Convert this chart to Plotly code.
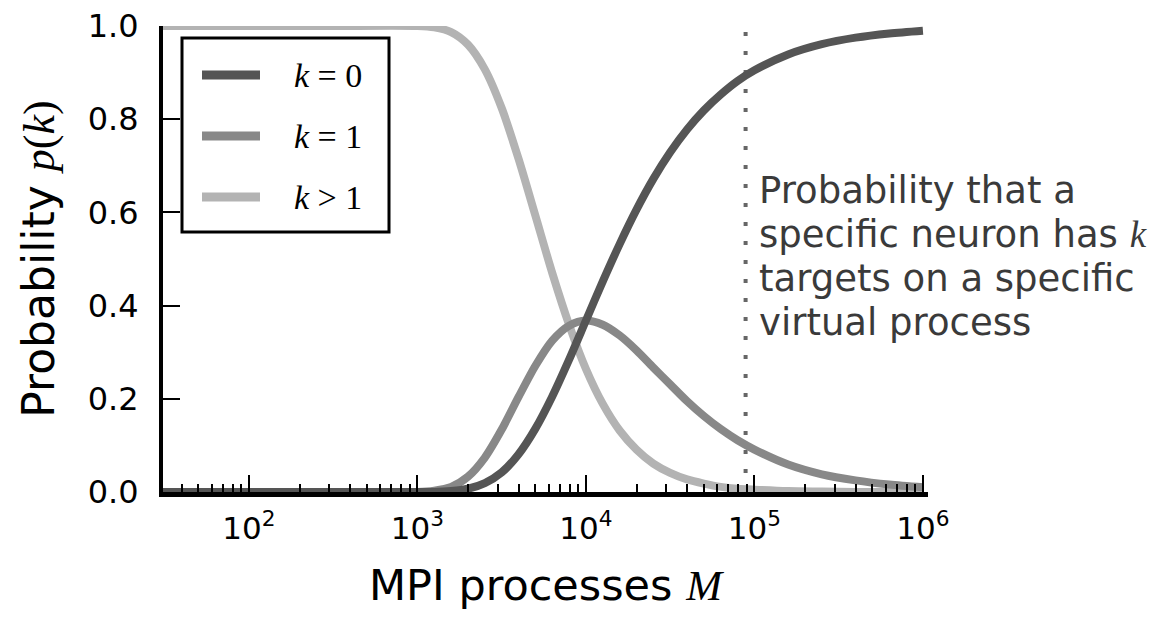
import plotly.graph_objects as go

# Number of MPI processes M (log-spaced samples)
procs_M = [30, 100, 300, 1000, 1259, 1585, 1995, 2512, 3162, 3981, 5012, 6310,
           7943, 10000, 12589, 15849, 19953, 25119, 31623, 39811, 50119, 63096,
           79433, 100000, 158489, 251189, 398107, 630957, 1000000]

# Probability that a neuron has k targets on a given virtual process
p_k0 = [0.000, 0.000, 0.000, 0.000, 0.000, 0.002, 0.007, 0.019, 0.042, 0.081,
        0.136, 0.205, 0.284, 0.368, 0.452, 0.532, 0.606, 0.672, 0.729, 0.778,
        0.819, 0.853, 0.882, 0.905, 0.939, 0.961, 0.975, 0.984, 0.990]
p_k1 = [0.000, 0.000, 0.000, 0.000, 0.003, 0.011, 0.033, 0.074, 0.134, 0.204,
        0.271, 0.325, 0.357, 0.368, 0.359, 0.336, 0.304, 0.267, 0.231, 0.195,
        0.163, 0.135, 0.111, 0.091, 0.059, 0.038, 0.025, 0.016, 0.010]
p_kgt1 = [1.000, 1.000, 1.000, 1.000, 0.997, 0.987, 0.960, 0.907, 0.824, 0.715,
          0.593, 0.470, 0.359, 0.264, 0.189, 0.132, 0.091, 0.061, 0.041, 0.027,
          0.018, 0.011, 0.007, 0.005, 0.002, 0.001, 0.000, 0.000, 0.000]

series_names = ["k = 0", "k = 1", "k > 1"]
series_colors = ["#555555", "#888888", "#b3b3b3"]
legend_texts = ["<i>k</i> = 0", "<i>k</i> = 1", "<i>k</i> > 1"]

# Vertical marker position
marker_M = 88600

x_tickvals = [1e2, 1e3, 1e4, 1e5, 1e6]
x_ticktext = ["10<sup>2</sup>", "10<sup>3</sup>", "10<sup>4</sup>",
              "10<sup>5</sup>", "10<sup>6</sup>"]
y_tickvals = [0.0, 0.2, 0.4, 0.6, 0.8, 1.0]

note_lines = ["Probability that a",
              "specific neuron has <span style=\"font-family:'Liberation Serif'\"><i>k</i></span>",
              "targets on a specific",
              "virtual process"]

SANS = "DejaVu Sans"
SERIF = "Liberation Serif"

fig = go.Figure()

fig.add_trace(go.Scatter(
    x=[marker_M, marker_M], y=[0, 1], mode="lines",
    line=dict(color="#666666", width=4, dash="4px,15px"),
    showlegend=False, hoverinfo="skip", cliponaxis=False))

# draw light -> dark so the darker curves sit on top
for vals, name, color in [(p_kgt1, series_names[2], series_colors[2]),
                          (p_k1, series_names[1], series_colors[1]),
                          (p_k0, series_names[0], series_colors[0])]:
    fig.add_trace(go.Scatter(
        x=procs_M, y=vals, mode="lines", name=name,
        line=dict(color=color, width=8, shape="spline", smoothing=0.8),
        cliponaxis=False, showlegend=False))

W, H = 1162, 619
ML, MR, MT, MB = 163, 234, 26, 127
PW, PH = W - ML - MR, H - MT - MB


def px(xp):
    return (xp - ML) / PW


def py(yp):
    return (H - MB - yp) / PH


shapes = []
annotations = []

# legend box
shapes.append(dict(type="rect", xref="paper", yref="paper",
                   x0=px(182), x1=px(389), y0=py(232), y1=py(38),
                   line=dict(color="black", width=3), fillcolor="white",
                   layer="above"))
for i, (color, txt) in enumerate(zip(series_colors, legend_texts)):
    yy = py(75 + 61 * i)
    shapes.append(dict(type="line", xref="paper", yref="paper",
                       x0=px(202), x1=px(260), y0=yy, y1=yy,
                       line=dict(color=color, width=9), layer="above"))
    annotations.append(dict(xref="paper", yref="paper", x=px(292), y=yy,
                            xanchor="left", yanchor="middle", showarrow=False,
                            text=txt, font=dict(family=SERIF, size=34,
                                                color="black")))

# side note, one annotation per line
for i, line in enumerate(note_lines):
    annotations.append(dict(
        xref="paper", yref="paper", x=px(757), y=py(190 + 44.3 * i),
        xanchor="left", yanchor="middle", align="left", showarrow=False,
        text=line, font=dict(family=SANS, size=37, color="#3a3a3a")))

fig.update_layout(
    width=W, height=H,
    margin=dict(l=ML, r=MR, t=MT, b=MB, autoexpand=False),
    paper_bgcolor="white", plot_bgcolor="white",
    shapes=shapes, annotations=annotations,
    showlegend=False,
    xaxis=dict(
        type="log", range=[1.49, 6.03], automargin=False,
        showgrid=False, zeroline=False,
        showline=True, linecolor="black", linewidth=5,
        ticks="inside", ticklen=17, tickwidth=1.5, tickcolor="black",
        tickvals=x_tickvals, ticktext=x_ticktext,
        ticklabelstandoff=5,
        tickfont=dict(family=SANS, size=31, color="black"),
        minor=dict(ticks="inside", ticklen=8, tickwidth=1.5,
                   tickcolor="black", dtick="D1", showgrid=False),
        title=dict(text=("MPI processes "
                         f"<span style=\"font-family:'{SERIF}'\"><i>M</i></span>"),
                   font=dict(family=SANS, size=43, color="black"),
                   standoff=26),
    ),
    yaxis=dict(
        range=[0, 1], automargin=False,
        showgrid=False, zeroline=False,
        showline=True, linecolor="black", linewidth=4,
        ticks="inside", ticklen=17, tickwidth=1.5, tickcolor="black",
        tickvals=y_tickvals, tickformat=".1f",
        ticklabelstandoff=14,
        tickfont=dict(family=SANS, size=32, color="black"),
        title=dict(text=("Probability "
                         f"<span style=\"font-family:'{SERIF}'\"><i>p</i>(<i>k</i>)</span>"),
                   font=dict(family=SANS, size=44, color="black"),
                   standoff=20),
    ),
)

fig.write_html("out.html")
